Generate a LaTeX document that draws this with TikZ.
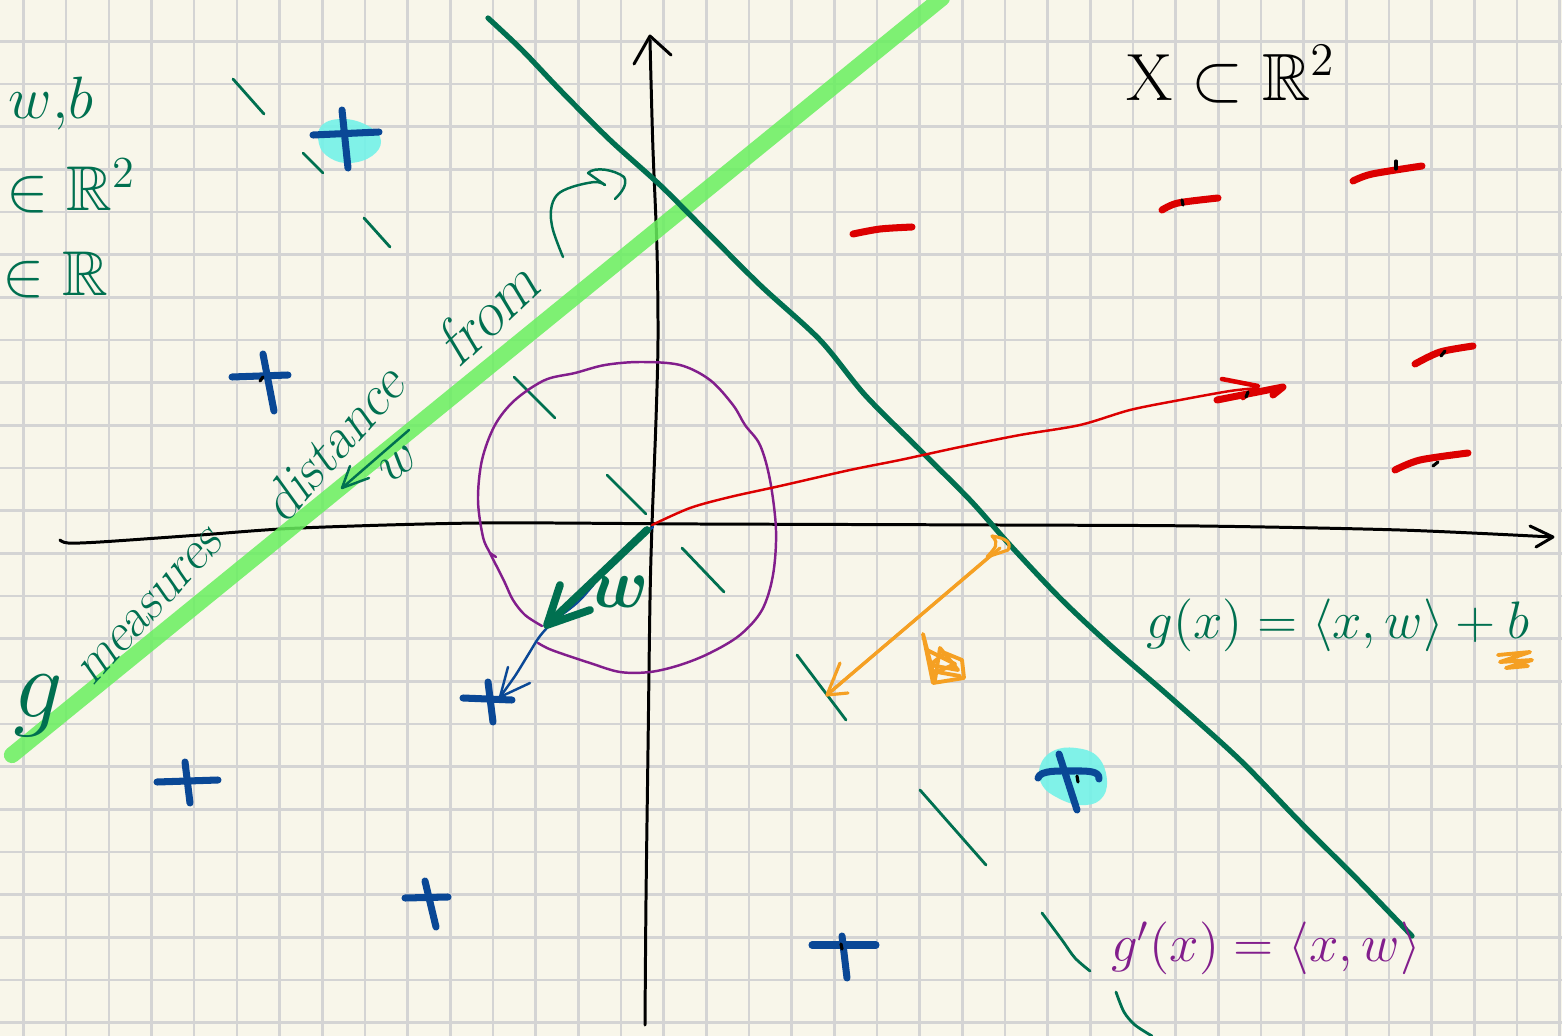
\RequirePackage{fix-cm}
\documentclass[tikz,border=0pt]{standalone}
\usepackage{amsmath}
\usepackage{amssymb}
\usepackage{fontspec}
\definecolor{paper}{RGB}{248,246,234}
\definecolor{gridc}{RGB}{212,212,212}
\definecolor{dgreen}{RGB}{0,112,80}
\definecolor{hlgreen}{RGB}{105,240,95}
\definecolor{pblue}{RGB}{10,72,150}
\definecolor{pcyan}{RGB}{115,242,232}
\definecolor{pred}{RGB}{220,0,0}
\definecolor{ppurple}{RGB}{130,30,140}
\definecolor{porange}{RGB}{245,160,35}
\tikzset{
  ink/.style={line cap=round, line join=round},
  gridline/.style={gridc, line width=0.75pt},
  axis/.style={ink, black, line width=0.85pt},
  bound/.style={ink, dgreen, line width=1.5pt},
  hl/.style={ink, hlgreen, line width=4.6pt, opacity=0.85},
  tickm/.style={ink, dgreen, line width=0.8pt},
  plusm/.style={ink, pblue, line width=2pt},
  minusm/.style={ink, pred, line width=2pt},
  thinpen/.style={ink, line width=0.7pt},
  blob/.style={pcyan, opacity=0.9},
  handtext/.style={inner sep=0pt, text=dgreen},
  slanttext/.style={inner sep=0pt, text=dgreen, transform shape, xscale=0.8},
  dot/.style={ink, black, line width=0.9pt},
}
\begin{document}
\begin{tikzpicture}[x=0.01cm, y=-0.01cm]
\useasboundingbox (0,0) rectangle (1562,1036);
\fill[paper] (0,0) rectangle (1562,1036);
\begin{scope}
\clip (0,0) rectangle (1562,1036);
% grid
\foreach \i in {0,...,36} \draw[gridline] ({23.5+42.67*\i},0) -- ({23.5+42.67*\i},1036);
\foreach \j in {1,...,24} \draw[gridline] (0,{-1.4+42.67*\j}) -- (1562,{-1.4+42.67*\j});

% cyan blobs
\fill[blob] plot[smooth cycle, tension=0.7] coordinates {(322,125) (345,119) (370,127) (381,141) (372,156) (350,163) (330,158) (319,144)};
\fill[blob] plot[smooth cycle, tension=0.7] coordinates {(1040,766) (1053,751) (1076,748) (1098,757) (1107,781) (1100,800) (1080,805) (1058,798) (1042,785)};

% axes
\draw[axis] plot[smooth, tension=0.5] coordinates {(60,540) (68,543) (100,542) (200,535) (300,528) (480,523) (700,524) (1000,525) (1200,526) (1400,530) (1552,537)};
\draw[axis] (1530,526) -- (1553,537) -- (1536,547);
\draw[axis] plot[smooth, tension=0.5] coordinates {(645,1025) (646,900) (648,750) (650,600) (652,525) (656,420) (658,340) (657,250) (653,150) (651,80) (650,40)};
\draw[axis] (634,64) -- (650,36) -- (671,55);

% highlighter line
\draw[hl] (12,755) -- (942,-2);

% decision boundary
\draw[bound] plot[smooth, tension=0.5] coordinates {(488,18) (522,50) (562,92) (610,140) (660,185) (700,225) (760,285) (820,340) (865,395) (920,450) (970,500) (1010,545) (1060,598) (1110,645) (1170,697) (1240,760) (1300,822) (1360,882) (1412,936)};

% green ticks
\draw[tickm] (233,79) -- (264,114);
\draw[tickm] (303,153) -- (323,173);
\draw[tickm] (364,218) -- (390,247);
\draw[tickm] (514,377) -- (555,418);
\draw[tickm] (607,475) -- (646,514);
\draw[tickm] (682,548) -- (724,592);
\draw[tickm] (797,655) -- (846,720);
\draw[tickm] (920,790) -- (986,865);
\draw[tickm] plot[smooth] coordinates {(1042,913) (1062,940) (1075,958) (1090,971)};
\draw[tickm] plot[smooth] coordinates {(1116,992) (1124,1012) (1135,1025) (1152,1036)};

% purple circle
\draw[thinpen, ppurple] plot[smooth, tension=0.55] coordinates {(542,626) (525,615) (513,600) (505,583) (496,565) (490,553) (483,537) (478,500) (482,460) (495,425) (515,400) (545,380) (575,373) (605,365) (640,362) (680,365) (710,380) (733,405) (745,425) (760,445) (770,480) (776,530) (773,575) (762,610) (740,635) (710,653) (680,665) (650,672) (620,672) (590,663) (560,653) (547,648) (538,643)};
\draw[thinpen, ppurple] (490,553) -- (496,557);

% red arrow
\draw[thinpen, pred] plot[smooth, tension=0.5] coordinates {(652,525) (690,508) (730,497) (780,486) (850,470) (900,460) (960,447) (1020,435) (1080,425) (1130,410) (1180,400) (1230,391) (1258,388)};
\draw[ink, pred, line width=1.3pt] (1222,379) -- (1258,386) -- (1243,398);
\draw[minusm] (1217,400) -- (1283,387) -- (1273,395);

% red minus signs
\draw[minusm] plot[smooth] coordinates {(853,234) (880,229) (912,227)};
\draw[minusm] plot[smooth] coordinates {(1162,210) (1178,203) (1218,198)};
\draw[minusm] plot[smooth] coordinates {(1353,181) (1372,174) (1422,166)};
\draw[minusm] plot[smooth] coordinates {(1415,364) (1440,352) (1473,346)};
\draw[minusm] plot[smooth] coordinates {(1395,470) (1420,460) (1468,453)};
\draw[dot] (1182,200) -- (1183,205);
\draw[dot] (1396,161) -- (1396,169);
\draw[dot] (1445,351) -- (1441,356);
\draw[dot] (1438,462) -- (1433,466);
\draw[dot] (1248,392) -- (1246,397);

% blue plus signs
\draw[plusm] (313,135) -- (379,132);
\draw[plusm] (342,110) -- (348,168);
\draw[plusm] (232,377) -- (288,375);
\draw[plusm] (263,354) -- (274,411);
\draw[plusm] (463,698) -- (512,700);
\draw[plusm] (488,682) -- (493,722);
\draw[plusm] (157,782) -- (218,780);
\draw[plusm] (185,762) -- (190,803);
\draw[plusm] (405,898) -- (448,897);
\draw[plusm] (425,881) -- (436,927);
\draw[plusm] (812,945) -- (876,945);
\draw[plusm] (842,936) -- (847,978);
\draw[plusm] (1038,778) .. controls (1040,770) and (1060,771) .. (1070,771) .. controls (1085,771) and (1100,770) .. (1099,779);
\draw[plusm] (1059,754) -- (1077,810);
\draw[dot] (263,377) -- (260,381);
\draw[dot] (1077,776) -- (1078,782);
\draw[dot] (841,944) -- (842,949);

% blue arrow
\draw[thinpen, pblue] plot[smooth, tension=0.5] coordinates {(653,527) (615,560) (580,600) (555,620) (540,636) (528,655) (515,676) (500,697)};
\draw[thinpen, pblue] (508,667) -- (500,697) -- (530,683);

% green w arrow
\draw[ink, dgreen, line width=2.2pt] (647,530) -- (550,622);
\draw[ink, dgreen, line width=2.2pt] (560,585) -- (547,625) -- (590,610);

% orange double arrow
\draw[ink, porange, line width=0.9pt] (1000,548) -- (829,693);
\draw[ink, porange, line width=0.9pt] (990,556) -- (827,695);
\draw[ink, porange, line width=0.9pt] (987,557) .. controls (995,548) and (1000,544) .. (992,536) .. controls (1005,538) and (1012,542) .. (1008,550) -- (990,556);
\draw[ink, porange, line width=0.9pt] (840,663) -- (827,695) -- (848,693);
\draw[ink, porange, line width=1.1pt] (923,634) -- (933,683) -- (964,678) -- (962,660) -- (945,653) -- (930,665) -- (958,670) -- (940,648) -- (935,680) -- (923,634);
\draw[ink, porange, line width=1.1pt] (927,650) -- (955,664) -- (937,672) -- (960,676);
\draw[ink, porange, line width=1.1pt] (1498,655) -- (1530,652) -- (1500,662) -- (1532,660) -- (1506,668) -- (1528,666);

% green curved arrow
\draw[thinpen, dgreen] plot[smooth, tension=0.6] coordinates {(563,257) (553,230) (551,210) (557,195) (572,187) (595,182) (605,185)};
\draw[thinpen, dgreen] (605,185) -- (588,173) .. controls (595,166) and (615,170) .. (624,177) .. controls (628,184) and (622,192) .. (615,199);

% small green arrow near text
\draw[thinpen, dgreen] (409,430) -- (342,488);
\draw[thinpen, dgreen] (350,466) -- (342,488) -- (369,478);
\end{scope}

% texts
\node[handtext, anchor=base west, font=\fontsize{17}{20}\selectfont] (wb) at (8,118) {$w{,}b$};
\node[handtext, anchor=base west, font=\fontsize{18}{20}\selectfont] (inR2) at (6,210) {$\in\mathbb{R}^2$};
\node[handtext, anchor=base west, font=\fontsize{18}{20}\selectfont] (inR) at (2,295) {$\in\mathbb{R}$};
\node[inner sep=0pt, anchor=base, font=\fontsize{19}{22}\selectfont] (XR) at (1231,100) {$\mathrm{X}\subset\mathbb{R}^2$};
\node[handtext, font=\fontsize{15}{18}\selectfont] (gx) at (1338,625) {$g(x)=\langle x,w\rangle+b$};
\node[inner sep=0pt, text=ppurple, font=\fontsize{15}{18}\selectfont] (gpx) at (1266,948) {$g'(x)=\langle x,w\rangle$};
\node[handtext, font=\fontsize{28}{30}\selectfont] (gletter) at (38,706) {$g$};
\node[slanttext, rotate=41, font=\fontsize{17}{19}\selectfont\addfontfeatures{LetterSpace=8}] (meas) at (152,606) {measures};
\node[slanttext, rotate=42, font=\fontsize{18}{20}\selectfont\addfontfeatures{LetterSpace=8}] (dist) at (335,440) {distance};
\node[slanttext, rotate=37, font=\fontsize{20}{22}\selectfont\addfontfeatures{LetterSpace=8}] (fromtxt) at (490,310) {from};
\node[handtext, rotate=35, font=\fontsize{15}{18}\selectfont] (wsmall) at (399,464) {$w$};
\node[handtext, font=\fontsize{20}{22}\selectfont] (wbig) at (619,592) {$\boldsymbol{w}$};
\end{tikzpicture}
\end{document}
